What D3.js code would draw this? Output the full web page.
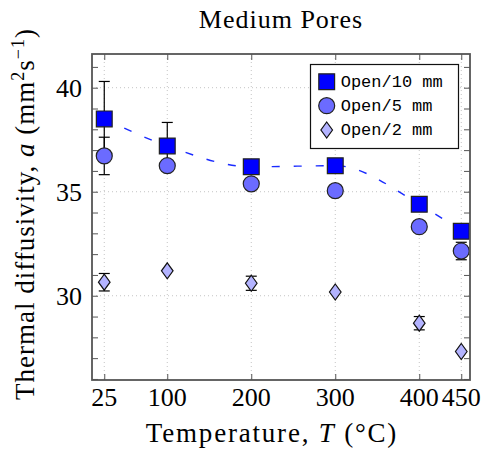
<!DOCTYPE html>
<html>
<head>
<meta charset="utf-8">
<script src="https://cdn.jsdelivr.net/npm/d3@7"></script>
<style>
  body { margin: 0; background: #fff; }
  text { font-family: "Liberation Serif", serif; fill: #000; }
</style>
</head>
<body>
<div id="chart"></div>
<script>
// data
var temps = [25, 100, 200, 300, 400, 450];
var xTicks = [25, 100, 200, 300, 400, 450];
var yTicks = [30, 35, 40];

var open10 = [38.5, 37.2, 36.2, 36.25, 34.4, 33.1];
var err10 = [1.8, 1.13, 0, 0, 0, 0];
var open5 = [36.72, 36.25, 35.38, 35.05, 33.32, 32.15];
var err5 = [0.9, 0, 0, 0, 0, 0.42];
var open2 = [30.65, 31.2, 30.6, 30.18, 28.68, 27.32];
var err2 = [0.42, 0, 0.34, 0, 0.32, 0];

var seriesNames = ["Open/10 mm", "Open/5 mm", "Open/2 mm"];

var width = 482, height = 450;
var pLeft = 92, pRight = 470, pTop = 54, pBottom = 380;

var svg = d3.select("#chart").append("svg")
    .attr("width", width)
    .attr("height", height);

var x = d3.scaleLinear().domain([10.4, 460.4]).range([pLeft, pRight]);
var y = d3.scaleLinear().domain([25.95, 41.62]).range([pBottom, pTop]);

// grid lines (dotted)
svg.append("g").selectAll("line")
    .data(xTicks).enter().append("line")
    .attr("x1", d => x(d)).attr("x2", d => x(d))
    .attr("y1", pTop).attr("y2", pBottom)
    .attr("stroke", "#c4c4c4").attr("stroke-width", 1)
    .attr("stroke-dasharray", "1,3");
svg.append("g").selectAll("line")
    .data(yTicks).enter().append("line")
    .attr("x1", pLeft).attr("x2", pRight)
    .attr("y1", d => y(d)).attr("y2", d => y(d))
    .attr("stroke", "#c4c4c4").attr("stroke-width", 1)
    .attr("stroke-dasharray", "1,3");

// axes with inward ticks
var minorY = d3.range(26, 42);
svg.append("g").attr("transform", "translate(" + pLeft + ",0)")
    .call(d3.axisRight(y).tickValues(minorY).tickSize(6).tickFormat(""))
    .call(g => g.select(".domain").remove());
svg.append("g").attr("transform", "translate(" + pRight + ",0)")
    .call(d3.axisLeft(y).tickValues(minorY).tickSize(6).tickFormat(""))
    .call(g => g.select(".domain").remove());
svg.append("g").attr("transform", "translate(0," + pBottom + ")")
    .call(d3.axisTop(x).tickValues(xTicks).tickSize(6).tickFormat(""))
    .call(g => g.select(".domain").remove());
svg.append("g").attr("transform", "translate(0," + pTop + ")")
    .call(d3.axisBottom(x).tickValues(xTicks).tickSize(6).tickFormat(""))
    .call(g => g.select(".domain").remove());
svg.selectAll(".tick line").attr("stroke", "#555").attr("stroke-width", 1);

// tick labels
svg.append("g").selectAll("text")
    .data(xTicks).enter().append("text")
    .attr("x", d => x(d)).attr("y", 406)
    .attr("text-anchor", "middle")
    .style("font-size", "26px")
    .text(d => d);
svg.append("g").selectAll("text")
    .data(yTicks).enter().append("text")
    .attr("x", 82).attr("y", d => y(d) + 9)
    .attr("text-anchor", "end")
    .style("font-size", "26px")
    .text(d => d);

// dashed smooth line through the 10 mm points
var line = d3.line()
    .x((d, i) => x(temps[i]))
    .y(d => y(d))
    .curve(d3.curveMonotoneX);
svg.append("path")
    .datum(open10)
    .attr("d", line)
    .attr("fill", "none")
    .attr("stroke", "#1a2bff")
    .attr("stroke-width", 1.4)
    .attr("stroke-dasharray", "8,14");

// error bars
function errorBars(vals, errs) {
    var g = svg.append("g").attr("stroke", "#000").attr("stroke-width", 1.2);
    vals.forEach(function (v, i) {
        if (!errs[i]) return;
        var cx = x(temps[i]);
        g.append("line").attr("x1", cx).attr("x2", cx)
            .attr("y1", y(v - errs[i])).attr("y2", y(v + errs[i]));
        [v - errs[i], v + errs[i]].forEach(function (e) {
            g.append("line").attr("x1", cx - 5.5).attr("x2", cx + 5.5)
                .attr("y1", y(e)).attr("y2", y(e));
        });
    });
}
errorBars(open10, err10);
errorBars(open5, err5);
errorBars(open2, err2);

// markers
var sqSym = d3.symbol().type(d3.symbolSquare).size(250);
var ciSym = d3.symbol().type(d3.symbolCircle).size(201);
function diamond(cx, cy, w, h) {
    return "M" + cx + "," + (cy - h) + "L" + (cx + w) + "," + cy +
        "L" + cx + "," + (cy + h) + "L" + (cx - w) + "," + cy + "Z";
}

svg.append("g").selectAll("path")
    .data(open5).enter().append("path")
    .attr("d", ciSym)
    .attr("transform", (d, i) => "translate(" + x(temps[i]) + "," + y(d) + ")")
    .attr("fill", "#6b6bff").attr("stroke", "#222").attr("stroke-width", 1.2);
svg.append("g").selectAll("path")
    .data(open10).enter().append("path")
    .attr("d", sqSym)
    .attr("transform", (d, i) => "translate(" + x(temps[i]) + "," + y(d) + ")")
    .attr("fill", "#0000ff").attr("stroke", "#222").attr("stroke-width", 1.2);
svg.append("g").selectAll("path")
    .data(open2).enter().append("path")
    .attr("d", (d, i) => diamond(x(temps[i]), y(d), 5.8, 8))
    .attr("fill", "#b3b3ff").attr("stroke", "#111").attr("stroke-width", 1.2);

// frame
svg.append("rect")
    .attr("x", pLeft).attr("y", pTop)
    .attr("width", pRight - pLeft).attr("height", pBottom - pTop)
    .attr("fill", "none").attr("stroke", "#555").attr("stroke-width", 1.8);

// legend
var leg = svg.append("g");
leg.append("rect")
    .attr("x", 310.5).attr("y", 64.5).attr("width", 148).attr("height", 84)
    .attr("fill", "#fff").attr("stroke", "#111").attr("stroke-width", 1.2);
var rows = [81.7, 105.7, 130];
leg.append("path").attr("d", sqSym)
    .attr("transform", "translate(326.7," + rows[0] + ")")
    .attr("fill", "#0000ff").attr("stroke", "#222").attr("stroke-width", 1.2);
leg.append("path").attr("d", ciSym)
    .attr("transform", "translate(326.7," + rows[1] + ")")
    .attr("fill", "#6b6bff").attr("stroke", "#222").attr("stroke-width", 1.2);
leg.append("path").attr("d", diamond(326.7, rows[2], 5.8, 8))
    .attr("fill", "#b3b3ff").attr("stroke", "#111").attr("stroke-width", 1.2);
leg.selectAll("text")
    .data(seriesNames).enter().append("text")
    .attr("x", 340.7).attr("y", (d, i) => rows[i] + 5)
    .style("font-family", "'Liberation Mono', monospace")
    .style("font-size", "17px")
    .text(d => d);

// title and axis labels
svg.append("text")
    .attr("x", 281).attr("y", 28)
    .attr("text-anchor", "middle")
    .style("font-size", "26px")
    .style("letter-spacing", "1px")
    .text("Medium Pores");

var xl = svg.append("text")
    .attr("x", 272).attr("y", 442)
    .attr("text-anchor", "middle")
    .style("font-size", "27px")
    .style("letter-spacing", "1.8px");
xl.append("tspan").text("Temperature, ");
xl.append("tspan").style("font-style", "italic").text("T");
xl.append("tspan").text(" (°C)");

var yl = svg.append("text")
    .attr("transform", "translate(34,214) rotate(-90)")
    .attr("text-anchor", "middle")
    .style("font-size", "27px")
    .style("letter-spacing", "1px");
yl.append("tspan").text("Thermal diffusivity, ");
yl.append("tspan").style("font-style", "italic").text("a");
yl.append("tspan").text(" (mm");
yl.append("tspan").attr("dy", -10).style("font-size", "18px").text("2");
yl.append("tspan").attr("dy", 10).text("s");
yl.append("tspan").attr("dy", -10).style("font-size", "18px").text("−1");
yl.append("tspan").attr("dy", 10).text(")");
</script>
</body>
</html>
